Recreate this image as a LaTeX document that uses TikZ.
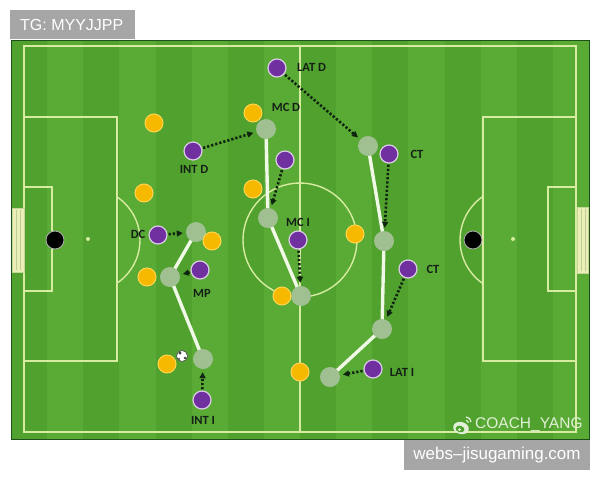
\documentclass[tikz,border=0pt]{standalone}
\usepackage{fontspec}
\setmainfont{Liberation Sans}
\newfontfamily\carlito{Carlito}
\usetikzlibrary{arrows.meta}
\definecolor{stripeA}{RGB}{80,161,46}
\definecolor{stripeB}{RGB}{90,170,54}
\definecolor{fieldline}{RGB}{215,236,160}
\definecolor{borderc}{RGB}{30,80,25}
\definecolor{plum}{RGB}{112,48,160}
\definecolor{gold}{RGB}{246,185,0}
\definecolor{goldrim}{RGB}{255,214,80}
\definecolor{ghostc}{RGB}{160,192,146}
\definecolor{linkc}{RGB}{240,248,230}
\definecolor{labelc}{RGB}{20,32,22}
\definecolor{runc}{RGB}{14,36,14}
\definecolor{tagc}{RGB}{166,166,166}
\definecolor{goalc}{RGB}{236,238,184}
\definecolor{markc}{RGB}{225,240,215}
\pgfdeclarelayer{field}
\pgfdeclarelayer{links}
\pgfsetlayers{field,links,main}
\tikzset{
  purp/.style={circle,fill=plum,draw=white!75!plum,line width=1.2pt,minimum size=18pt,inner sep=0pt},
  yell/.style={circle,fill=gold,draw=goldrim,line width=1pt,minimum size=18pt,inner sep=0pt},
  ghost/.style={circle,fill=ghostc,minimum size=20pt,inner sep=0pt},
  keeper/.style={circle,fill=black,draw=gray!60,line width=0.8pt,minimum size=18pt,inner sep=0pt},
  lbl/.style={font=\carlito\bfseries\fontsize{12.5}{12.5}\selectfont,text=labelc,inner sep=0pt},
  link/.style={draw=linkc,line width=3.4pt},
  run/.style={draw=runc,line width=2.6pt,dash pattern=on 2.2pt off 2pt,
    -{Triangle[length=6pt,width=6pt]},shorten >=3pt,shorten <=1pt},
  pline/.style={draw=fieldline,line width=1.4pt},
}
\begin{document}
\begin{tikzpicture}[x=1pt,y=-1pt]
\useasboundingbox (0,0) rectangle (600,480);
\begin{pgfonlayer}{field}
\fill[white] (0,0) rectangle (600,480);
% stripes
\foreach \i in {0,...,15}{
  \pgfmathsetmacro{\xa}{11+\i*36.125}
  \pgfmathsetmacro{\xb}{11+(\i+1)*36.125}
  \ifodd\i
    \fill[stripeB] (\xa,40) rectangle (\xb,439);
  \else
    \fill[stripeA] (\xa,40) rectangle (\xb,439);
  \fi
}
\draw[borderc,line width=1pt] (11,40) rectangle (589,439);
% markings
\draw[pline] (24,46) rectangle (576,432);
\draw[pline] (300,46) -- (300,432);
\draw[pline] (300,240) circle (57pt);
\draw[pline] (24,117) rectangle (117,361);
\draw[pline] (24,187) rectangle (52,291);
\draw[pline] (483,117) rectangle (576,361);
\draw[pline] (548,187) rectangle (576,291);
\begin{scope}
  \clip (117,0) rectangle (300,480);
  \draw[pline] (88,240) circle (52pt);
\end{scope}
\begin{scope}
  \clip (0,0) rectangle (483,480);
  \draw[pline] (513,240) circle (53pt);
\end{scope}
\fill[fieldline] (88,239) circle (2pt);
\fill[fieldline] (513,239) circle (2pt);
\fill[fieldline] (300,240) circle (1.5pt);
% goals
\filldraw[fill=goalc,draw=fieldline!80!gray,line width=0.8pt] (12,208) rectangle (24,272);
\draw[fieldline!70!gray,line width=0.6pt] (16,210) -- (16,270) (20,210) -- (20,270);
\filldraw[fill=goalc,draw=fieldline!80!gray,line width=0.8pt] (577,207) rectangle (588,273);
\draw[fieldline!70!gray,line width=0.6pt] (581,209) -- (581,271) (585,209) -- (585,271);
\end{pgfonlayer}

% keepers
\node[keeper] (kL) at (55,240) {};
\node[keeper] (kR) at (473,240) {};

% ghost positions
\node[ghost] (g1) at (266,129) {};
\node[ghost] (g2) at (268,218) {};
\node[ghost] (g3) at (301,296) {};
\node[ghost] (g4) at (196,232) {};
\node[ghost] (g5) at (170,277) {};
\node[ghost] (g6) at (203,359) {};
\node[ghost] (g7) at (368,146) {};
\node[ghost] (g8) at (384,241) {};
\node[ghost] (g9) at (382,329) {};
\node[ghost] (g10) at (330,377) {};

% yellow team
\node[yell] (y1) at (154,123) {};
\node[yell] (y2) at (253,113) {};
\node[yell] (y3) at (144,193) {};
\node[yell] (y4) at (253,189) {};
\node[yell] (y5) at (212,241) {};
\node[yell] (y6) at (147,277) {};
\node[yell] (y7) at (282,296) {};
\node[yell] (y8) at (355,234) {};
\node[yell] (y9) at (167,364) {};
\node[yell] (y10) at (300,372) {};

% purple team
\node[purp] (pLATD) at (277,68) {};
\node[purp] (pINTD) at (193,151) {};
\node[purp] (pMCD) at (285,160) {};
\node[purp] (pDC) at (158,235) {};
\node[purp] (pMP) at (200,270) {};
\node[purp] (pMCI) at (298,240) {};
\node[purp] (pCTa) at (389,154) {};
\node[purp] (pCTb) at (408,269) {};
\node[purp] (pLATI) at (373,369) {};
\node[purp] (pINTI) at (202,400) {};

% ball
\node[circle,fill=white,draw=black!70,line width=0.6pt,minimum size=11pt,inner sep=0pt] (ball) at (182,356) {};
\fill[black!75] (180,353) circle (1.6pt) (185,358) circle (1.4pt) (179,359) circle (1.1pt);

% labels
\node[lbl,anchor=west] (tLATD) at (297,67) {LAT D};
\node[lbl] (tMCD) at (286,107) {MC D};
\node[lbl] (tINTD) at (194,169) {INT D};
\node[lbl] (tDC) at (138,234) {DC};
\node[lbl] (tMCI) at (298,222) {MC I};
\node[lbl] (tMP) at (202,293) {MP};
\node[lbl] (tCTa) at (417,154) {CT};
\node[lbl] (tCTb) at (433,269) {CT};
\node[lbl] (tLATI) at (402,372) {LAT I};
\node[lbl] (tINTI) at (203,420) {INT I};

% links (white)
\begin{pgfonlayer}{links}
\draw[link] (g1.center) -- (g2.center) -- (g3.center);
\draw[link] (g4.center) -- (g5.center) -- (g6.center);
\draw[link] (g7.center) -- (g8.center) -- (g9.center) -- (g10.center);
\end{pgfonlayer}

% runs (dotted arrows)
\draw[run] (pLATD) -- (g7);
\draw[run] (pINTD) -- (g1);
\draw[run] (pMCD) -- (g2);
\draw[run] (pDC) -- (g4);
\draw[run] (pMP) -- (g5);
\draw[run] (pMCI) -- (g3);
\draw[run] (pCTa) -- (g8);
\draw[run] (pCTb) -- (g9);
\draw[run] (pLATI) -- (g10);
\draw[run] (pINTI) -- (g6);

% tag boxes
\node[fill=tagc,minimum width=125pt,minimum height=29pt,anchor=north west,inner sep=0pt] (tag) at (10,10) {};
\node[anchor=west,text=white,font=\fontsize{16}{16}\selectfont,inner sep=0pt] (tagtext) at (20,25) {TG: MYYJJPP};
\node[fill=tagc,minimum width=186pt,minimum height=30pt,anchor=north west,inner sep=0pt] (site) at (404,440) {};
\node[text=white,font=\fontsize{17}{17}\selectfont,inner sep=0pt] (sitetext) at (497,455) {webs–jisugaming.com};

% watermark
\node[anchor=west,text=markc,font=\fontsize{15.5}{15.5}\selectfont,inner sep=0pt] (wm) at (475,425) {COACH\_YANG};
\begin{scope}
  \fill[markc,rotate around={-15:(461,428)}] (461,428) ellipse (8pt and 6pt);
  \fill[stripeA,rotate around={-15:(460,429)}] (460,429) ellipse (4.5pt and 3.2pt);
  \fill[markc] (459.5,429.5) circle (1.5pt);
  \draw[markc,line width=1.3pt] (466,417) arc (90:0:5pt);
  \draw[markc,line width=1.1pt] (466,420.5) arc (90:0:2.3pt);
\end{scope}
\end{tikzpicture}
\end{document}
